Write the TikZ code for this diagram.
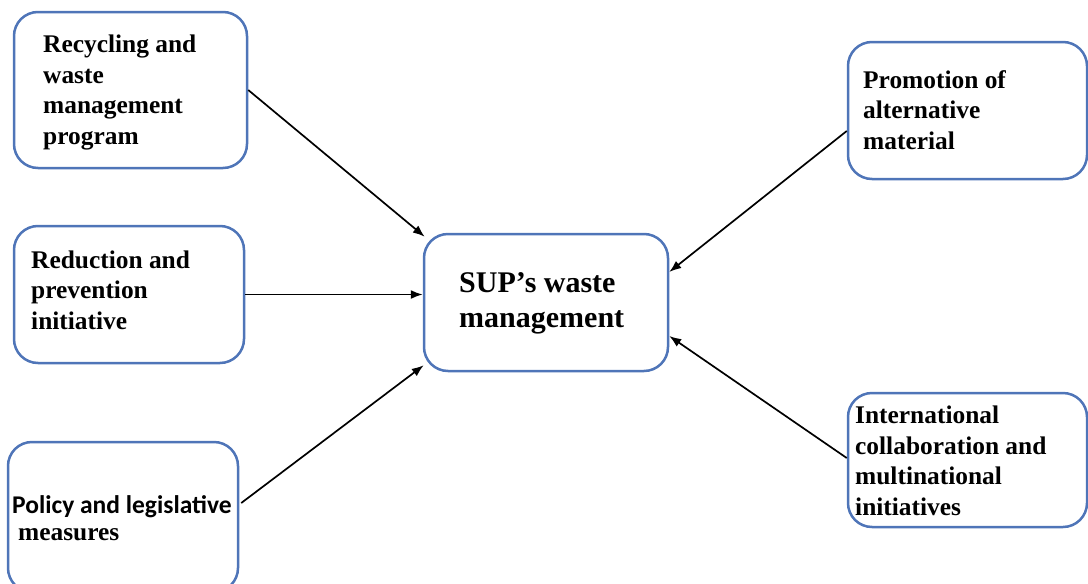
\documentclass[tikz,border=0pt]{standalone}
\usepackage{fontspec}
\setmainfont{Liberation Serif}
\newfontfamily\calib{Carlito}
\usetikzlibrary{arrows.meta,calc}
\definecolor{boxblue}{RGB}{79,117,184}
\tikzset{
  box/.style={draw=boxblue, line width=2.5pt, rounded corners=24pt, inner sep=0pt},
  lbl/.style={anchor=base west, inner sep=0pt, align=left, font=\fontsize{25.4}{30.5}\selectfont\bfseries},
  conn/.style={-{Latex[length=12pt,width=9pt]}, line width=1.7pt, black}
}
\begin{document}
\begin{tikzpicture}[x=1pt,y=-1pt]
\useasboundingbox (0,0) rectangle (1088,584);
\node[box, minimum width=233pt, minimum height=156pt] (rec) at (130.5,90) {};
\node[box, minimum width=230pt, minimum height=137pt] (red) at (129,294.5) {};
\node[box, minimum width=230pt, minimum height=150pt] (pol) at (123,517) {};
\node[box, minimum width=244pt, minimum height=137pt] (sup) at (546,302.5) {};
\node[box, minimum width=239pt, minimum height=137pt] (pro) at (967.5,110.5) {};
\node[box, minimum width=239pt, minimum height=134pt] (int) at (967.5,460) {};

\node[lbl] (trec) at (43,144) {Recycling and\\waste\\management\\program};
\node[lbl] (tred) at (31,329) {Reduction and\\prevention\\initiative};
\node[lbl, font=\calib\fontsize{25.5}{30}\selectfont\bfseries] (tpol1) at (12,513) {Policy and legislative};
\node[lbl] (tpol2) at (18,540) {measures};
\node[lbl, font=\fontsize{30}{35}\selectfont\bfseries] (tsup) at (459,327) {SUP’s waste\\management};
\node[lbl] (tpro) at (863,149) {Promotion of\\alternative\\material};
\node[lbl] (tint) at (855,515) {International\\collaboration and\\multinational\\initiatives};

\draw[conn] (rec.east) -- ($(sup.north west)+(2,4)$);
\draw[conn] (red.east) -- (red.east -| sup.west);
\draw[conn] ($(pol.east)+(2,-14)$) -- ($(sup.south west)+(1,-7)$);
\draw[conn] ($(pro.west)+(0,20.5)$) -- ($(sup.east)+(0,-30.5)$);
\draw[conn] ($(int.west)+(0,-2)$) -- ($(sup.east)+(0,33.5)$);
\end{tikzpicture}
\end{document}
